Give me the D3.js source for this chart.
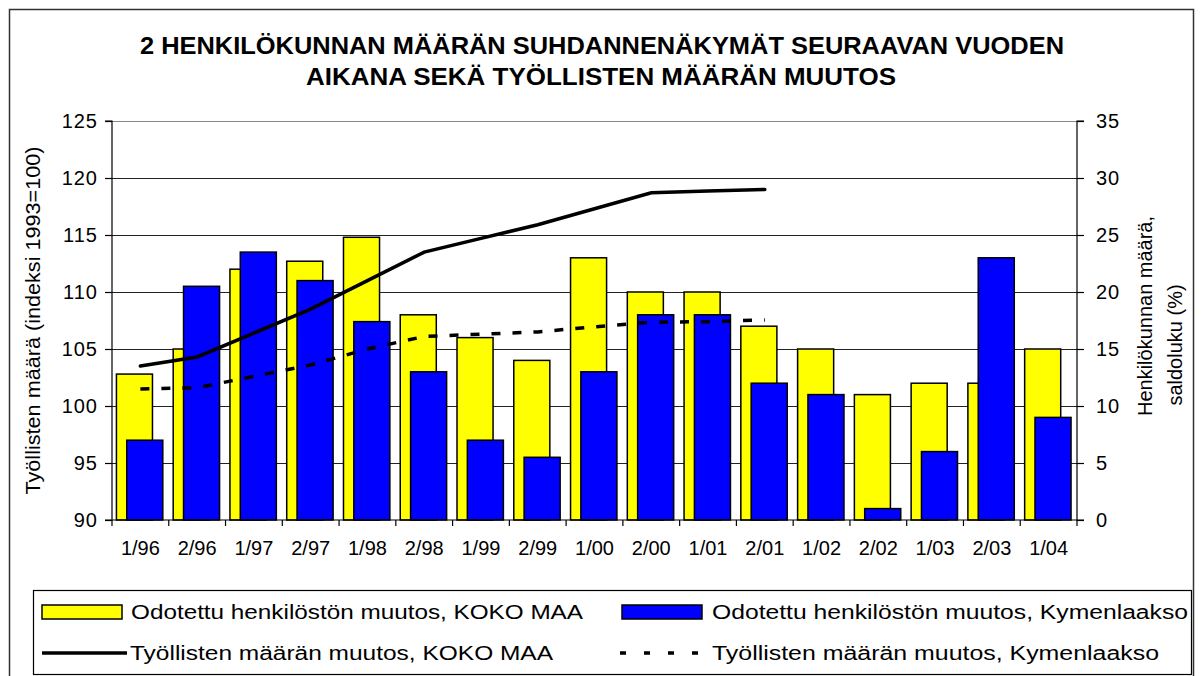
<!DOCTYPE html>
<html>
<head>
<meta charset="utf-8">
<script src="https://cdn.jsdelivr.net/npm/d3@7"></script>
<style>
  body { margin: 0; background: #fff; }
  svg { display: block; font-family: "Liberation Sans", Arial, sans-serif; }
</style>
</head>
<body>
<div id="chart"></div>
<script>
// half-year periods
const periods = ["1/96", "2/96", "1/97", "2/97", "1/98", "2/98", "1/99", "2/99", "1/00",
                 "2/00", "1/01", "2/01", "1/02", "2/02", "1/03", "2/03", "1/04"];
// expected change in staff, saldo % (right axis)
const staffKoko = [12.8, 15, 22, 22.7, 24.8, 18, 16, 14, 23, 20, 20, 17, 15, 11, 12, 12, 15];
const staffKymi = [7, 20.5, 23.5, 21, 17.4, 13, 7, 5.5, 13, 18, 18, 12, 11, 1, 6, 23, 9];
// employed persons, index 1993=100 (left axis)
const employedKoko = [103.5, 104.3, 106.4, 108.5, 111.0, 113.5, 114.7, 115.9, 117.3, 118.7, 118.85, 119.0];
const employedKymi = [101.5, 101.6, 102.6, 103.6, 105.0, 106.1, 106.3, 106.5, 106.95, 107.35, 107.4, 107.55];
const leftTicks = [90, 95, 100, 105, 110, 115, 120, 125];
const rightTicks = [0, 5, 10, 15, 20, 25, 30, 35];

const W = 1202, H = 676;
const plot = { left: 112, right: 1077, top: 121, bottom: 520 };

const svg = d3.select("#chart").append("svg")
    .attr("width", W)
    .attr("height", H);

// outer frame
svg.append("rect")
    .attr("x", 9.5).attr("y", 9.5)
    .attr("width", 1184).attr("height", 690)
    .attr("fill", "#fff")
    .attr("stroke", "#333")
    .attr("stroke-width", 1.5);

// title
let title = svg.append("g")
    .attr("font-weight", "bold")
    .attr("font-size", 23)
    .attr("text-anchor", "middle");
title.append("text").attr("x", 602).attr("y", 54)
    .attr("textLength", 924).attr("lengthAdjust", "spacingAndGlyphs")
    .text("2 HENKILÖKUNNAN MÄÄRÄN SUHDANNENÄKYMÄT SEURAAVAN VUODEN");
title.append("text").attr("x", 601).attr("y", 85)
    .attr("textLength", 590).attr("lengthAdjust", "spacingAndGlyphs")
    .text("AIKANA SEKÄ TYÖLLISTEN MÄÄRÄN MUUTOS");

let x = d3.scaleBand()
    .domain(periods)
    .range([plot.left, plot.right]);

let yL = d3.scaleLinear().domain([90, 125]).range([plot.bottom, plot.top]);
let yR = d3.scaleLinear().domain([0, 35]).range([plot.bottom, plot.top]);

let bw = x.bandwidth();

// gridlines
svg.append("g")
    .selectAll("line")
    .data(leftTicks.slice(1))
    .enter().append("line")
    .attr("x1", plot.left).attr("x2", plot.right)
    .attr("y1", (d) => Math.round(yL(d)) + 0.5)
    .attr("y2", (d) => Math.round(yL(d)) + 0.5)
    .attr("stroke", (d) => d === 125 ? "#888" : "#222")
    .attr("stroke-width", 1);

// bars: yellow first, blue overlapping to the right
let bars = svg.append("g")
    .attr("stroke", "#000")
    .attr("stroke-width", 1.5);

bars.selectAll("rect.koko")
    .data(staffKoko)
    .enter().append("rect")
    .attr("class", "koko")
    .attr("x", (d, i) => x(periods[i]) + bw * 0.078)
    .attr("width", bw * 0.635)
    .attr("y", (d) => yR(d))
    .attr("height", (d) => yR(0) - yR(d))
    .attr("fill", "#ffff00");

bars.selectAll("rect.kymi")
    .data(staffKymi)
    .enter().append("rect")
    .attr("class", "kymi")
    .attr("x", (d, i) => x(periods[i]) + bw * 0.26)
    .attr("width", bw * 0.635)
    .attr("y", (d) => yR(d))
    .attr("height", (d) => yR(0) - yR(d))
    .attr("fill", "#0000ff");

// lines
let line = d3.line()
    .x((d, i) => x(periods[i]) + bw / 2)
    .y((d) => yL(d));

svg.append("path")
    .datum(employedKoko)
    .attr("d", line)
    .attr("fill", "none")
    .attr("stroke", "#000")
    .attr("stroke-width", 3.5)
    .attr("stroke-linecap", "round");

svg.append("path")
    .datum(employedKymi)
    .attr("d", line)
    .attr("fill", "none")
    .attr("stroke", "#000")
    .attr("stroke-width", 3.5)
    .attr("stroke-dasharray", "9,12");

// axes
let axisLeft = d3.axisLeft(yL).tickValues(leftTicks).tickSize(7).tickPadding(7);
let axisRight = d3.axisRight(yR).tickValues(rightTicks).tickSize(7).tickPadding(12);
let axisBottom = d3.axisBottom(x).tickSize(0).tickPadding(21);

function styleAxis(g) {
  g.selectAll("path, line").attr("stroke", "#000").attr("stroke-width", 1.2);
  g.selectAll("text")
      .attr("font-size", 20)
      .attr("font-family", "'Liberation Sans', Arial, sans-serif")
      .attr("fill", "#000");
}

svg.append("g")
    .attr("transform", `translate(${ plot.left }, 0)`)
    .call(axisLeft)
    .call((g) => g.select(".domain").attr("d", `M-7,${ plot.top }H0V${ plot.bottom }H-7`))
    .call(styleAxis)
    .call((g) => g.selectAll("text").attr("letter-spacing", 1));

svg.append("g")
    .attr("transform", `translate(${ plot.right }, 0)`)
    .call(axisRight)
    .call((g) => g.select(".domain").attr("d", `M7,${ plot.top }H0V${ plot.bottom }H7`))
    .call(styleAxis)
    .call((g) => g.selectAll("text").attr("letter-spacing", 1));

let xAxis = svg.append("g")
    .attr("transform", `translate(0, ${ plot.bottom })`)
    .call(axisBottom)
    .call(styleAxis);
xAxis.select(".domain").attr("d", `M${ plot.left },0H${ plot.right }`);

// category separator ticks
svg.append("g")
    .selectAll("line")
    .data(periods.concat(["end"]))
    .enter().append("line")
    .attr("x1", (d, i) => plot.left + i * bw)
    .attr("x2", (d, i) => plot.left + i * bw)
    .attr("y1", plot.bottom)
    .attr("y2", plot.bottom + 6)
    .attr("stroke", "#000")
    .attr("stroke-width", 1.2);

// axis titles
svg.append("text")
    .attr("transform", `translate(40, ${ (plot.top + plot.bottom) / 2 }) rotate(-90)`)
    .attr("text-anchor", "middle")
    .attr("font-size", 20)
    .attr("textLength", 348).attr("lengthAdjust", "spacingAndGlyphs")
    .text("Työllisten määrä (indeksi 1993=100)");

svg.append("text")
    .attr("transform", `translate(1152, 316) rotate(-90)`)
    .attr("text-anchor", "middle")
    .attr("font-size", 20)
    .text("Henkilökunnan määrä,");

svg.append("text")
    .attr("transform", `translate(1182, 345) rotate(-90)`)
    .attr("text-anchor", "middle")
    .attr("font-size", 20)
    .text("saldoluku (%)");

// legend
let legend = svg.append("g");
legend.append("rect")
    .attr("x", 33.5).attr("y", 590.5)
    .attr("width", 1158).attr("height", 84)
    .attr("fill", "#fff")
    .attr("stroke", "#000")
    .attr("stroke-width", 1.2);

const legendItems = [
  { label: "Odotettu henkilöstön muutos, KOKO MAA", type: "bar", fill: "#ffff00", x: 42, tx: 131, y: 612, len: 452 },
  { label: "Odotettu henkilöstön muutos, Kymenlaakso", type: "bar", fill: "#0000ff", x: 622, tx: 712, y: 612, len: 476 },
  { label: "Työllisten määrän muutos, KOKO MAA", type: "line", x: 42, tx: 130, y: 653, len: 423 },
  { label: "Työllisten määrän muutos, Kymenlaakso", type: "dash", x: 620, tx: 712, y: 653, len: 447 }
];

legendItems.forEach((d) => {
  if (d.type === "bar") {
    legend.append("rect")
        .attr("x", d.x).attr("y", d.y - 7)
        .attr("width", 80).attr("height", 14)
        .attr("fill", d.fill)
        .attr("stroke", "#000")
        .attr("stroke-width", 1.5);
  } else {
    legend.append("line")
        .attr("x1", d.x).attr("x2", d.type === "line" ? d.x + 85 : d.x + 80)
        .attr("y1", d.y).attr("y2", d.y)
        .attr("stroke", "#000")
        .attr("stroke-width", 3.5)
        .attr("stroke-dasharray", d.type === "dash" ? "6,18" : null);
  }
  legend.append("text")
      .attr("x", d.tx).attr("y", d.y)
      .attr("dy", "0.36em")
      .attr("font-size", 20)
      .attr("textLength", d.len).attr("lengthAdjust", "spacingAndGlyphs")
      .text(d.label);
});
</script>
</body>
</html>
